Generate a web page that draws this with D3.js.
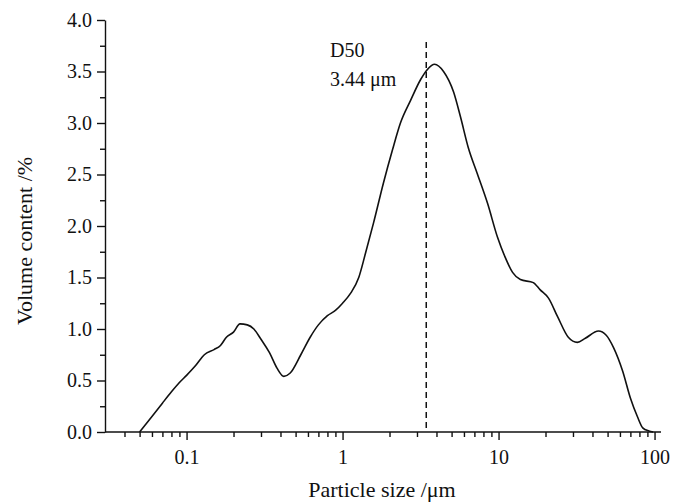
<!DOCTYPE html>
<html><head><meta charset="utf-8">
<script src="https://cdn.jsdelivr.net/npm/d3@7"></script>
<style>body{margin:0;background:#fff}svg{display:block}text{font-family:"Liberation Serif","Times New Roman",serif;fill:#111}</style>
</head><body><svg id="c" width="674" height="504"></svg>
<script>
const sizes = [0.05,0.06,0.07,0.08,0.09,0.1,0.115,0.13,0.15,0.165,0.18,0.2,0.22,0.245,0.27,0.30,0.34,0.38,0.42,0.46,0.54,0.62,0.70,0.80,0.90,1.0,1.13,1.27,1.40,1.58,1.83,2.09,2.35,2.73,3.16,3.5,3.89,4.44,5.15,5.7,6.4,7.3,8.5,9.85,11.0,12.3,13.8,16.7,18.5,20.9,23.9,28,32,36,43.7,49,54.6,62.5,70,77.6,84,92,98];
const volume = [0,0.15,0.28,0.39,0.48,0.55,0.65,0.75,0.80,0.84,0.92,0.97,1.05,1.04,1.00,0.90,0.77,0.62,0.54,0.57,0.75,0.92,1.04,1.13,1.18,1.25,1.35,1.50,1.73,2.03,2.42,2.74,3.0,3.22,3.42,3.52,3.57,3.50,3.30,3.06,2.76,2.51,2.22,1.89,1.70,1.55,1.48,1.45,1.38,1.30,1.12,0.92,0.87,0.91,0.98,0.94,0.82,0.59,0.33,0.15,0.04,0.01,0];
const xMajorTicks = [0.1,1,10,100];
const xTickLabels = ["0.1","1","10","100"];
const yMajorTicks = [0,0.5,1,1.5,2,2.5,3,3.5,4];
const d50 = 3.44;
const d50Labels = ["D50","3.44 \u03bcm"];
const xTitle = "Particle size /\u03bcm";
const yTitle = "Volume content /%";

const svg = d3.select("#c");
const L=105,R=661,T=20,B=432;
const x = d3.scaleLog().domain([0.03,110]).range([L,R]);
const y = d3.scaleLinear().domain([0,4]).range([B,T]);

const xMinor = [];
[0.01,0.1,1,10].forEach(d=>{for(let k=2;k<=9;k++){const v=+(d*k).toPrecision(3); if(v>=0.04&&v<=100) xMinor.push(v);}});
const yMinor = d3.range(0.25,4,0.5);

// x axis
const gx = svg.append("g").attr("transform",`translate(0,${B})`);
gx.call(d3.axisBottom(x).tickValues(xMinor).tickSize(5).tickFormat(""));
gx.call(g=>g.select(".domain").remove());
const gx2 = svg.append("g").attr("transform",`translate(0,${B})`);
gx2.call(d3.axisBottom(x).tickValues(xMajorTicks).tickSize(8).tickSizeOuter(0).tickPadding(10).tickFormat((d,i)=>xTickLabels[i]));
gx2.select(".domain").attr("d",`M${L},0H${R}`).attr("stroke","#111").attr("stroke-width",1.4);
gx2.selectAll("text").attr("font-size",20).attr("fill","#111");

// y axis
const gy = svg.append("g").attr("transform",`translate(${L},0)`);
gy.call(d3.axisLeft(y).tickValues(yMinor).tickSize(5).tickFormat(""));
gy.call(g=>g.select(".domain").remove());
const gy2 = svg.append("g").attr("transform",`translate(${L},0)`);
gy2.call(d3.axisLeft(y).tickValues(yMajorTicks).tickSize(8).tickSizeOuter(0).tickPadding(5).tickFormat(d3.format(".1f")));
gy2.select(".domain").attr("stroke","#111").attr("stroke-width",1.4);
gy2.selectAll("text").attr("font-size",20).attr("fill","#111");
svg.selectAll(".tick line").attr("stroke","#111").attr("stroke-width",1.4);

// curve
const data = sizes.map((s,i)=>[s,volume[i]]);
svg.append("path").datum(data)
  .attr("fill","none").attr("stroke","#111").attr("stroke-width",1.6)
  .attr("d",d3.line().x(d=>x(d[0])).y(d=>y(d[1])).curve(d3.curveMonotoneX));

// D50 line
svg.append("line").attr("x1",x(d50)).attr("x2",x(d50)).attr("y1",42).attr("y2",B)
  .attr("stroke","#111").attr("stroke-width",1.5).attr("stroke-dasharray","6,4");
svg.append("text").attr("x",330).attr("y",57).attr("font-size",20).text(d50Labels[0]);
svg.append("text").attr("x",330).attr("y",86).attr("font-size",20).text(d50Labels[1]);

// titles
svg.append("text").attr("x",382).attr("y",497).attr("text-anchor","middle").attr("font-size",22).text(xTitle);
svg.append("text").attr("transform","translate(32,241) rotate(-90)").attr("text-anchor","middle").attr("font-size",22).text(yTitle);
</script></body></html>
